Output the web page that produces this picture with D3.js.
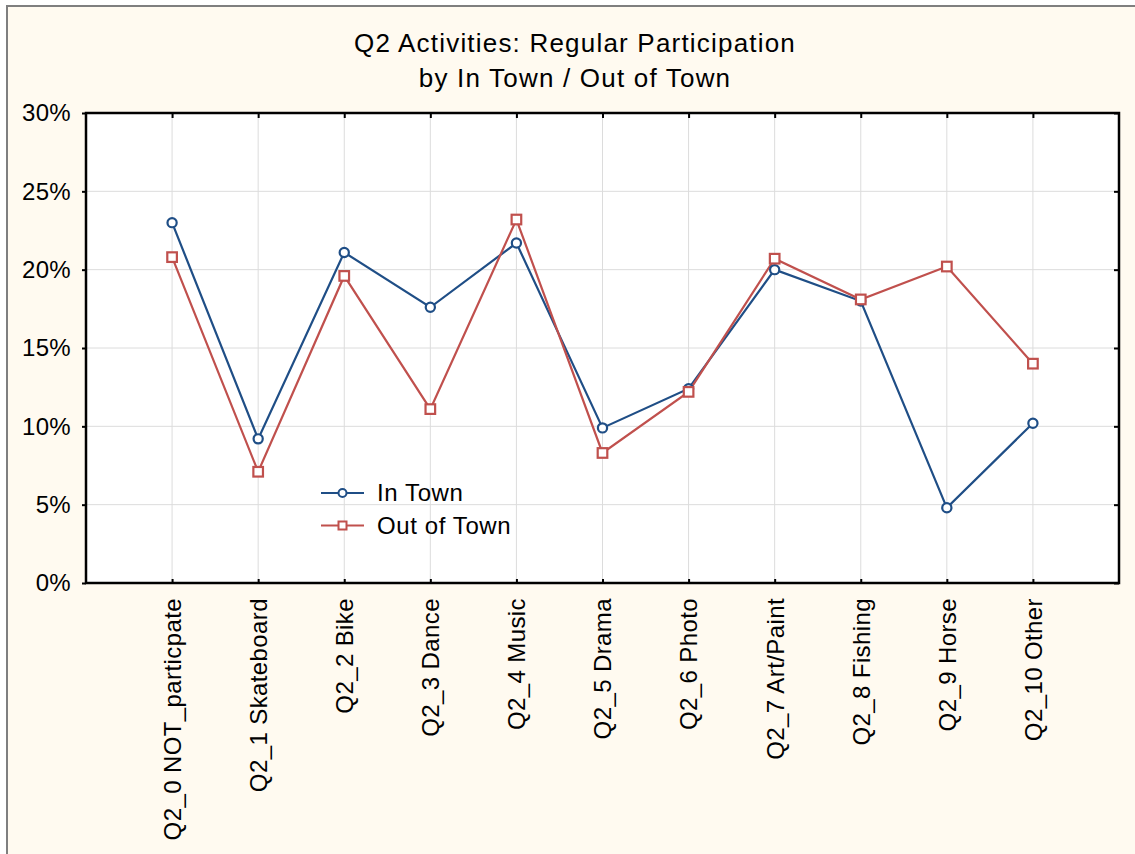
<!DOCTYPE html>
<html>
<head>
<meta charset="utf-8">
<script src="https://cdn.jsdelivr.net/npm/d3@7"></script>
<style>
  body { margin: 0; background: #ffffff; }
  text { font-family: "Liberation Sans", Arial, sans-serif; fill: #000; }
</style>
</head>
<body>
<svg></svg>
<script>
let svgWidth = 1135;
let svgHeight = 854;

// data
let categories = ["Q2_0 NOT_particpate", "Q2_1 Skateboard", "Q2_2 Bike", "Q2_3 Dance",
	"Q2_4 Music", "Q2_5 Drama", "Q2_6 Photo", "Q2_7 Art/Paint", "Q2_8 Fishing",
	"Q2_9 Horse", "Q2_10 Other"];
let inTown = [0.230, 0.092, 0.211, 0.176, 0.217, 0.099, 0.124, 0.200, 0.180, 0.048, 0.102];
let outOfTown = [0.208, 0.071, 0.196, 0.111, 0.232, 0.083, 0.122, 0.207, 0.181, 0.202, 0.140];
let yTicks = [0, 0.05, 0.10, 0.15, 0.20, 0.25, 0.30];
let seriesNames = ["In Town", "Out of Town"];
let titleLines = ["Q2 Activities: Regular Participation", "by In Town / Out of Town"];

let blue = "#1f4e86";
let red = "#c0504d";

let plotLeft = 86, plotRight = 1119, plotTop = 113, plotBottom = 583;

var svg = d3.select("svg")
		.attr("width", svgWidth)
		.attr("height", svgHeight);

// outer panel
svg.append("rect")
	.attr("x", 7).attr("y", 6)
	.attr("width", svgWidth + 20).attr("height", svgHeight + 20)
	.attr("fill", "#fffaf0")
	.attr("stroke", "#7f7f7f")
	.attr("stroke-width", 2);

let xScale = d3.scalePoint()
		.domain(categories)
		.range([plotLeft, plotRight])
		.padding(1);
let yScale = d3.scaleLinear()
		.domain([0, 0.30])
		.range([plotBottom, plotTop]);

// plot area
svg.append("rect")
	.attr("x", plotLeft).attr("y", plotTop)
	.attr("width", plotRight - plotLeft).attr("height", plotBottom - plotTop)
	.attr("fill", "#ffffff");

// grid
svg.append("g")
	.selectAll("line")
	.data(yTicks)
	.enter()
	.append("line")
		.attr("x1", plotLeft).attr("x2", plotRight)
		.attr("y1", d => yScale(d)).attr("y2", d => yScale(d))
		.attr("stroke", "#dcdcdc").attr("stroke-width", 1);
svg.append("g")
	.selectAll("line")
	.data(categories)
	.enter()
	.append("line")
		.attr("x1", d => xScale(d)).attr("x2", d => xScale(d))
		.attr("y1", plotTop).attr("y2", plotBottom)
		.attr("stroke", "#dcdcdc").attr("stroke-width", 1);

// axes
let yAxis = d3.axisLeft(yScale)
		.tickValues(yTicks)
		.tickFormat(d3.format(".0%"))
		.tickSizeInner(4)
		.tickSizeOuter(0)
		.tickPadding(11);
let gy = svg.append("g")
	.attr("transform", `translate(${plotLeft}, 0)`)
	.call(yAxis);
gy.select(".domain").remove();
gy.selectAll("text").attr("font-size", "24px").attr("font-family", null)
	.attr("letter-spacing", "0.3px");
gy.selectAll("line").attr("stroke-width", 2);

let yAxisRight = d3.axisLeft(yScale)
		.tickValues(yTicks)
		.tickFormat("")
		.tickSizeInner(5)
		.tickSizeOuter(0);
let gyr = svg.append("g")
	.attr("transform", `translate(${plotRight}, 0)`)
	.call(yAxisRight);
gyr.select(".domain").remove();
gyr.selectAll("line").attr("stroke-width", 2);

let xAxis = d3.axisTop(xScale)
		.tickSizeInner(4)
		.tickSizeOuter(0);
let gx = svg.append("g")
	.attr("transform", `translate(0, ${plotBottom})`)
	.call(xAxis);
gx.select(".domain").remove();
gx.selectAll("line").attr("stroke-width", 2);
gx.selectAll("text")
	.attr("font-size", "24px")
	.attr("font-family", null)
	.attr("letter-spacing", "0.4px")
	.attr("text-anchor", "end")
	.attr("transform", "rotate(-90)")
	.attr("x", -15)
	.attr("y", 0)
	.attr("dy", "0.35em");

let xAxisTop = d3.axisBottom(xScale)
		.tickFormat("")
		.tickSizeInner(5)
		.tickSizeOuter(0);
let gxt = svg.append("g")
	.attr("transform", `translate(0, ${plotTop})`)
	.call(xAxisTop);
gxt.select(".domain").remove();
gxt.selectAll("line").attr("stroke-width", 2);

// frame
svg.append("rect")
	.attr("x", plotLeft).attr("y", plotTop)
	.attr("width", plotRight - plotLeft).attr("height", plotBottom - plotTop)
	.attr("fill", "none")
	.attr("stroke", "#000")
	.attr("stroke-width", 2.5);

// lines
let line = d3.line()
		.x((d, i) => xScale(categories[i]))
		.y(d => yScale(d));

svg.append("path")
	.datum(inTown)
	.attr("d", line)
	.attr("fill", "none")
	.attr("stroke", blue)
	.attr("stroke-width", 2.2);
svg.append("path")
	.datum(outOfTown)
	.attr("d", line)
	.attr("fill", "none")
	.attr("stroke", red)
	.attr("stroke-width", 2.2);

svg.append("g")
	.selectAll("circle")
	.data(inTown)
	.enter()
	.append("circle")
		.attr("cx", (d, i) => xScale(categories[i]))
		.attr("cy", d => yScale(d))
		.attr("r", 4.6)
		.attr("fill", "#ffffff")
		.attr("stroke", blue)
		.attr("stroke-width", 2.2);

svg.append("g")
	.selectAll("rect")
	.data(outOfTown)
	.enter()
	.append("rect")
		.attr("x", (d, i) => xScale(categories[i]) - 4.8)
		.attr("y", d => yScale(d) - 4.8)
		.attr("width", 9.6)
		.attr("height", 9.6)
		.attr("fill", "#ffffff")
		.attr("stroke", red)
		.attr("stroke-width", 2.2);

// Legend
let legend = svg.append("g")
	.attr("transform", "translate(321, 493)");
seriesNames.forEach((name, i) => {
	let c = i === 0 ? blue : red;
	let g = legend.append("g").attr("transform", `translate(0, ${i * 32.5})`);
	g.append("line")
		.attr("x1", 0).attr("x2", 43)
		.attr("y1", 0).attr("y2", 0)
		.attr("stroke", c).attr("stroke-width", 2);
	if (i === 0) {
		g.append("circle")
			.attr("cx", 21.5).attr("cy", 0).attr("r", 4)
			.attr("fill", "#ffffff").attr("stroke", c).attr("stroke-width", 2);
	} else {
		g.append("rect")
			.attr("x", 17.5).attr("y", -4).attr("width", 8).attr("height", 8)
			.attr("fill", "#ffffff").attr("stroke", c).attr("stroke-width", 2);
	}
	g.append("text")
		.text(name)
		.attr("x", 56)
		.attr("y", 0)
		.attr("dy", "0.35em")
		.attr("font-size", "24px")
		.attr("letter-spacing", "0.6px");
});

// Plot label
svg.selectAll(".title")
	.data(titleLines)
	.enter()
	.append("text")
	.attr("class", "title")
	.text(d => d)
	.attr("x", 575)
	.attr("y", (d, i) => 52 + i * 34.5)
	.attr("font-size", "26px")
	.attr("letter-spacing", "1.2px")
	.attr("text-anchor", "middle");
</script>
</body>
</html>
